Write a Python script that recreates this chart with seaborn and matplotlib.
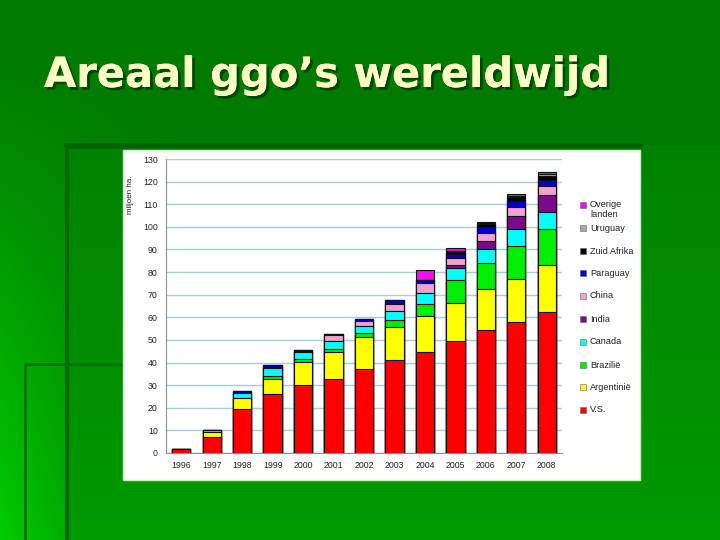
import numpy as np
import pandas as pd
import matplotlib
matplotlib.use("Agg")
import matplotlib.pyplot as plt
import seaborn as sns
from matplotlib.patches import Rectangle
from matplotlib.lines import Line2D
import matplotlib.patheffects as pe

# ---------------- data (miljoen ha.) ----------------
years = ["1996", "1997", "1998", "1999", "2000", "2001", "2002",
         "2003", "2004", "2005", "2006", "2007", "2008"]
vs          = [1.7, 7.2, 19.3, 26.3, 30.2, 32.7, 37.3, 41.1, 44.7, 49.7, 54.4, 58.0, 62.5]
argentinie  = [0.0, 2.2, 4.9, 6.5, 10.0, 12.0, 13.8, 14.7, 15.9, 16.8, 18.0, 18.8, 20.6]
brazilie    = [0.0, 0.0, 0.0, 1.2, 1.2, 1.4, 1.8, 3.0, 5.2, 10.0, 11.5, 14.7, 15.8]
canada      = [0.0, 0.8, 2.2, 3.4, 3.4, 3.3, 3.2, 4.1, 5.1, 5.2, 6.2, 7.4, 7.8]
india       = [0.0, 0.0, 0.0, 0.0, 0.0, 0.0, 0.0, 0.0, 0.0, 1.5, 3.8, 5.9, 7.4]
china       = [0.0, 0.0, 0.0, 0.8, 0.0, 2.6, 2.1, 3.0, 4.1, 2.9, 3.5, 3.8, 3.9]
paraguay    = [0.0, 0.0, 1.0, 0.5, 0.7, 0.7, 1.0, 1.7, 1.5, 2.0, 2.6, 2.8, 2.7]
zuid_afrika = [0.0, 0.0, 0.0, 0.0, 0.0, 0.0, 0.0, 0.0, 0.0, 1.0, 1.2, 1.8, 1.8]
uruguay     = [0.0, 0.0, 0.0, 0.0, 0.0, 0.0, 0.0, 0.0, 0.0, 0.4, 0.4, 0.6, 0.7]
overige     = [0.0, 0.0, 0.0, 0.0, 0.0, 0.0, 0.0, 0.0, 4.4, 1.0, 0.7, 0.6, 0.9]

series_names = ["V.S.", "Argentinië", "Brazilië", "Canada", "India", "China",
                "Paraguay", "Zuid Afrika", "Uruguay", "Overige\nlanden"]
series_values = [vs, argentinie, brazilie, canada, india, china,
                 paraguay, zuid_afrika, uruguay, overige]
series_colors = ["#ff0000", "#ffff00", "#00ee00", "#00ffff", "#7a0a8a", "#f5a0d2",
                 "#0000d0", "#000000", "#a8a8a8", "#ee10ee"]
y_ticks = list(range(0, 131, 10))

# ---------------- figure ----------------
sns.set_style("white")
plt.rcParams["font.family"] = ["Liberation Sans", "DejaVu Sans"]

W, H = 720, 540
fig = plt.figure(figsize=(7.2, 5.4), dpi=100)

# background slide (green gradients)
bg = fig.add_axes([0, 0, 1, 1])
bg.set_axis_off()
yy, xx = np.mgrid[0:H, 0:W]
yf = yy / H
xf = xx / W
t = np.clip((yf - 0.1) / 0.9, 0, 1) * np.clip(1 - xf * 4, 0, 1)
g = 0x7a + (0xcc - 0x7a) * t
frame = (xx >= 67) & (yy >= 145)
g = np.where(frame, 0x82 + (0x9a - 0x82) * np.clip((yy - 145) / 395, 0, 1), g)
img = np.zeros((H, W, 3))
img[..., 1] = g / 255.0
bg.imshow(img, extent=[0, 1, 0, 1], aspect="auto", zorder=0)
bg.set_xlim(0, 1)
bg.set_ylim(0, 1)

def fx(px):
    return px / W

def fy(py):
    return 1 - py / H

for (x0, y0, x1, y1, lw, c) in [
    (67, 146, 640, 146, 4, "#006200"),
    (67, 146, 67, 540, 3, "#006a00"),
    (25, 364, 123, 364, 2, "#007200"),
    (25, 364, 25, 540, 2, "#007200"),
]:
    bg.add_line(Line2D([fx(x0), fx(x1)], [fy(y0), fy(y1)], color=c, lw=lw, zorder=1))

bg.add_patch(Rectangle((fx(123), fy(480)), fx(640) - fx(123), fy(150) - fy(480),
                       facecolor="white", edgecolor="#c8f0c8", lw=1, zorder=2))

bg.text(fx(44), fy(75), "Areaal ggo’s wereldwijd", fontsize=30, fontweight="bold",
        family="DejaVu Sans", color="#ffffc4", ha="left", va="center", zorder=3,
        path_effects=[pe.withSimplePatchShadow(offset=(2, -2), shadow_rgbFace="#003000",
                                               alpha=0.7), pe.Normal()])

bg.text(fx(131), fy(195), "miljoen ha.", rotation=90, fontsize=5.8, color="#222222",
        ha="center", va="center", zorder=3)

# legend (top to bottom)
legend_y = [205, 228, 251, 273, 296, 319, 342, 365, 387, 410]
for k, idx in enumerate(range(len(series_names) - 1, -1, -1)):
    ypx = legend_y[k]
    bg.add_patch(Rectangle((fx(580), fy(ypx + 3)), fx(6), 6 / H,
                           facecolor=series_colors[idx], edgecolor="#666666",
                           lw=0.4, zorder=3))
    name = series_names[idx]
    if "\n" in name:
        bg.text(fx(590), fy(ypx - 5), name, fontsize=6.6, color="#222222",
                ha="left", va="top", linespacing=1.2, zorder=3)
    else:
        bg.text(fx(590), fy(ypx), name, fontsize=6.6, color="#222222",
                ha="left", va="center", zorder=3)

# ---------------- chart ----------------
ax = fig.add_axes([fx(166), fy(453), fx(562) - fx(166), fy(159) - fy(453)])
ax.patch.set_alpha(0)

cum = np.cumsum(np.array(series_values), axis=0)
for i in range(len(series_values) - 1, -1, -1):
    df = pd.DataFrame({"jaar": years, "waarde": cum[i]})
    sns.barplot(data=df, x="jaar", y="waarde", color=series_colors[i], saturation=1,
                edgecolor="#111111", linewidth=0.8, width=0.6, ax=ax, zorder=3)

ax.set_xlim(-0.5, len(years) - 0.5)
ax.set_ylim(0, 130)
ax.set_yticks(y_ticks)
ax.set_yticklabels([str(v) for v in y_ticks], fontsize=6.3, color="#222222")
ax.set_xticks(range(len(years)))
ax.set_xticklabels(years, fontsize=6.3, color="#222222")
ax.set_xticks(np.arange(0.5, len(years) - 0.5, 1), minor=True)
ax.tick_params(axis="x", which="major", length=0, pad=6)
ax.tick_params(axis="x", which="minor", length=4, color="#808080", width=0.8)
ax.tick_params(axis="y", length=4, color="#808080", width=0.8, pad=2)
ax.set_xlabel("")
ax.set_ylabel("")
ax.yaxis.grid(True, color="#a6cbdc", lw=1)
ax.set_axisbelow(True)
for s in ["top", "right"]:
    ax.spines[s].set_visible(False)
for s in ["left", "bottom"]:
    ax.spines[s].set_color("#909090")
    ax.spines[s].set_linewidth(0.8)

fig.savefig("out.png", dpi=100)
